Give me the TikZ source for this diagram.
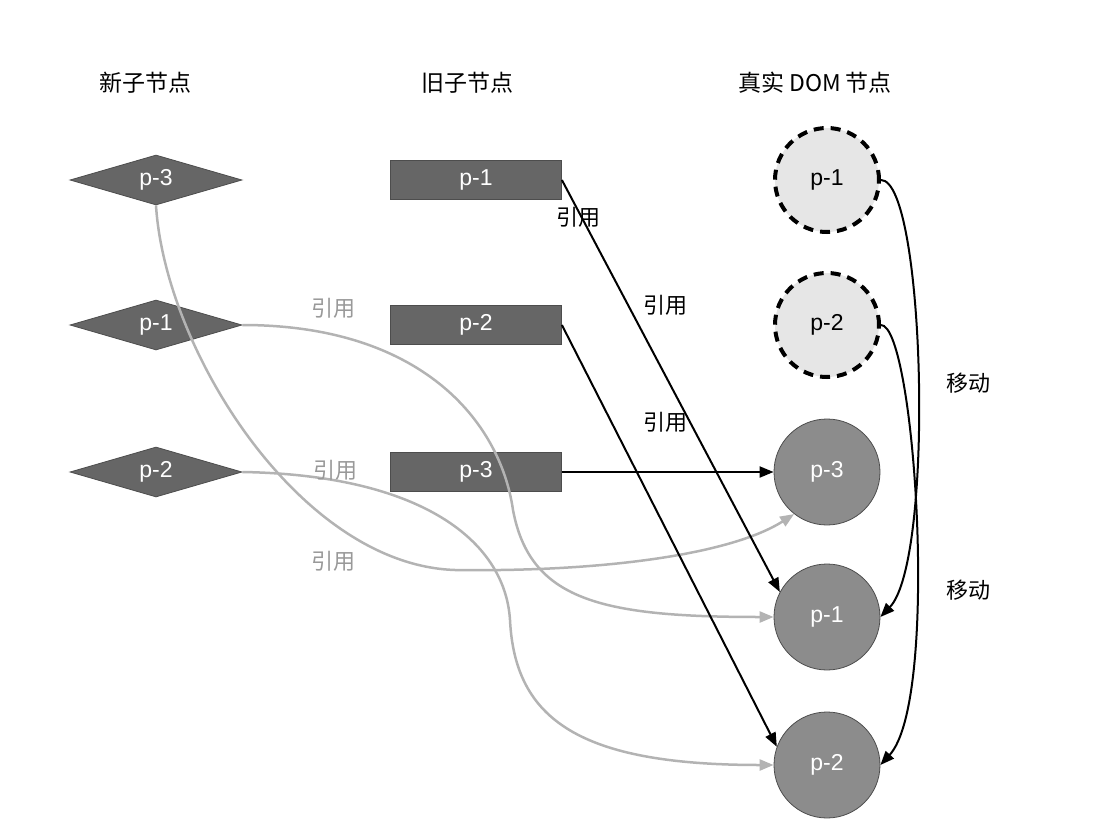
\documentclass[tikz,border=0pt]{standalone}
\usepackage{fontspec}
\setmainfont{Liberation Sans}
\newfontfamily\cjk{Noto Sans CJK SC}
\usetikzlibrary{shapes.geometric,arrows.meta}
\definecolor{boxgray}{HTML}{666666}
\definecolor{boxedge}{HTML}{4D4D4D}
\definecolor{lightfill}{HTML}{E6E6E6}
\definecolor{midfill}{HTML}{8C8C8C}
\definecolor{linkgray}{HTML}{B3B3B3}
\definecolor{labgray}{HTML}{999999}
\begin{document}
\begin{tikzpicture}[x=1pt,y=-1pt,
  every node/.style={font=\fontsize{23}{27}\selectfont},
  newnode/.style={shape=diamond,fill=boxgray,draw=boxedge,line width=0.8pt,minimum width=172pt,minimum height=50pt,inner sep=0pt,aspect=3.4,text=white},
  oldnode/.style={rectangle,fill=boxgray,draw=boxedge,line width=0.8pt,minimum width=171pt,minimum height=39pt,inner sep=0pt,text=white},
  ghost/.style={circle,fill=lightfill,draw=black,line width=4pt,dash pattern=on 10pt off 7pt,minimum size=104pt,inner sep=0pt,text=black},
  real/.style={circle,fill=midfill,draw=boxedge,line width=0.8pt,minimum size=106pt,inner sep=0pt,text=white},
  blk/.style={draw=black,line width=2pt,-{Triangle[length=14pt,width=11pt]}},
  gry/.style={draw=linkgray,line width=2.5pt,-{Triangle[length=14pt,width=11pt]}},
  lab/.style={font=\cjk\fontsize{22}{26}\selectfont},
  hdr/.style={font=\cjk\fontsize{23}{27}\selectfont},
  glab/.style={font=\cjk\fontsize{22}{26}\selectfont,text=labgray}]
\useasboundingbox (0,0) rectangle (1096,838);
% headers
\node[hdr] (h1) at (145,83) {新子节点};
\node[hdr] (h2) at (467,83) {旧子节点};
\node[hdr] (h3) at (815,83) {真实 DOM 节点};
% new children
\node[newnode] (d3) at (156,180) {p-3};
\node[newnode] (d1) at (156,325) {p-1};
\node[newnode] (d2) at (156,472) {p-2};
% old children
\node[oldnode] (o1) at (476,180) {p-1};
\node[oldnode] (o2) at (476,325) {p-2};
\node[oldnode] (o3) at (476,472) {p-3};
% real dom
\node[ghost] (g1) at (827,180) {p-1};
\node[ghost] (g2) at (827,325) {p-2};
\node[real] (r3) at (827,472) {p-3};
\node[real] (r1) at (827,617) {p-1};
\node[real] (r2) at (827,765) {p-2};
% gray links
\draw[gry] (d3.south) .. controls (165,350) and (300,565) .. (455,570) .. controls (600,572) and (730,555) .. (r3.-128);
\draw[gry] (d1.east) .. controls (420,325) and (500,420) .. (513,510) .. controls (530,600) and (600,617) .. (r1.west);
\draw[gry] (d2.east) .. controls (420,475) and (505,540) .. (510,620) .. controls (515,720) and (580,765) .. (r2.west);
% black links
\draw[blk] (o1.east) -- (r1.152);
\draw[blk] (o2.east) -- (r2.160);
\draw[blk] (o3.east) -- (r3.west);
\draw[blk] (g1.east) .. controls (925,180) and (935,560) .. (r1.east);
\draw[blk] (g2.east) .. controls (915,325) and (940,700) .. (r2.east);
% labels
\node[lab] (l1) at (578,217) {引用};
\node[lab] (l2) at (665,305) {引用};
\node[lab] (l3) at (665,422) {引用};
\node[lab] (m1) at (968,383) {移动};
\node[lab] (m2) at (968,590) {移动};
\node[glab] (gl1) at (333,308) {引用};
\node[glab] (gl2) at (335,470) {引用};
\node[glab] (gl3) at (333,561) {引用};
\end{tikzpicture}
\end{document}
